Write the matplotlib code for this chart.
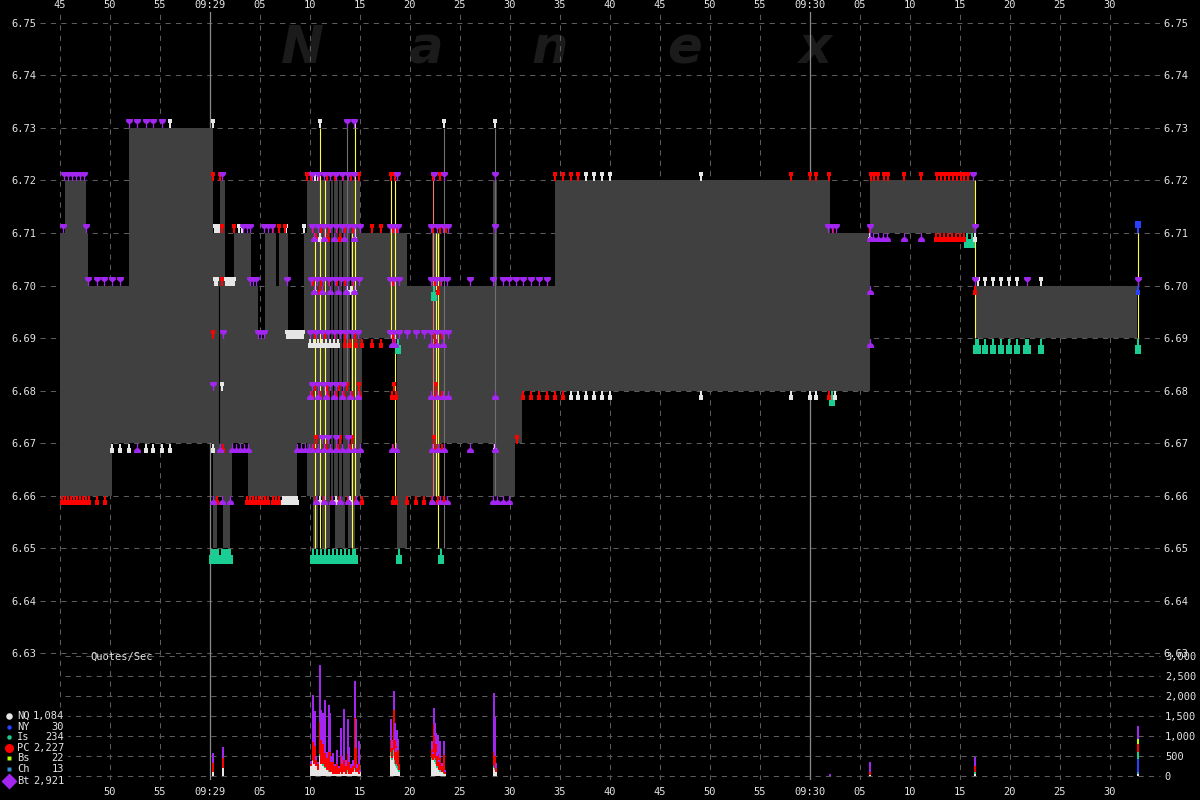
import numpy as np
import matplotlib
matplotlib.use("Agg")
import matplotlib.pyplot as plt
from matplotlib.path import Path
from matplotlib.transforms import offset_copy
from matplotlib.patches import Rectangle

plt.rcParams['font.family'] = ['DejaVu Sans Mono', 'DejaVu Sans']

# ---------------- data (time = seconds after 09:28:45) ----------------
X_TICK_SEC = list(range(0, 110, 5))
X_TICK_LABELS = ['45', '50', '55', '09:29', '05', '10', '15', '20', '25', '30', '35',
                 '40', '45', '50', '55', '09:30', '05', '10', '15', '20', '25', '30']
PRICE_TICKS = [6.63, 6.64, 6.65, 6.66, 6.67, 6.68, 6.69, 6.70, 6.71, 6.72, 6.73, 6.74, 6.75]
Q_TICKS = [0, 500, 1000, 1500, 2000, 2500, 3000]

# NBBO spread (step, post)
SEG_T = [0.0, 0.5, 2.6, 2.8, 5.2, 6.9, 15.3, 15.7, 16.0, 16.3, 16.5, 17.0, 17.2, 17.4,
         18.8, 19.1, 19.8, 20.5, 21.6, 21.9, 22.8, 23.7, 24.4, 24.7, 25.3, 25.8, 26.2,
         27.0, 27.5, 28.5, 28.8, 29.5, 30.0, 30.2, 33.7, 34.7, 37.2, 38.0, 43.3, 43.7,
         45.5, 46.2, 49.5, 77.0, 81.0, 91.5]
SEG_BID = [6.66, 6.66, 6.66, 6.66, 6.67, 6.67, 6.65, 6.66, 6.66, 6.65, 6.65, 6.66, 6.67, 6.67,
           6.66, 6.66, 6.66, 6.66, 6.66, 6.66, 6.66, 6.67, 6.67, 6.66, 6.65, 6.66, 6.65,
           6.66, 6.65, 6.66, 6.65, 6.66, 6.67, 6.69, 6.65, 6.66, 6.66, 6.67, 6.66, 6.66,
           6.67, 6.68, 6.68, 6.68, 6.71, 6.69]
SEG_ASK = [6.71, 6.72, 6.71, 6.70, 6.70, 6.73, 6.71, 6.71, 6.72, 6.72, 6.70, 6.70, 6.70, 6.71,
           6.71, 6.70, 6.69, 6.71, 6.70, 6.71, 6.69, 6.69, 6.71, 6.72, 6.72, 6.72, 6.72,
           6.72, 6.72, 6.72, 6.72, 6.72, 6.71, 6.71, 6.71, 6.70, 6.71, 6.70, 6.72, 6.70,
           6.70, 6.70, 6.72, 6.71, 6.72, 6.70]
SEG_END = 107.7

# quotes per exchange: (time, price)
BT_ASK = [(0.4, 6.72), (0.8, 6.72), (1.2, 6.72), (1.6, 6.72), (2.0, 6.72), (2.4, 6.72), (16.2, 6.72),
          (25.2, 6.72), (25.8, 6.72), (26.4, 6.72), (27.0, 6.72), (27.6, 6.72), (28.2, 6.72), (28.8, 6.72),
          (29.4, 6.72), (33.7, 6.72), (37.4, 6.72), (38.4, 6.72), (43.5, 6.72), (91.3, 6.72),
          (6.9, 6.73), (7.7, 6.73), (8.6, 6.73), (9.3, 6.73), (10.2, 6.73), (28.7, 6.73), (29.4, 6.73),
          (0.3, 6.71), (2.6, 6.71), (18.3, 6.71), (18.7, 6.71), (19.0, 6.71), (20.4, 6.71), (20.8, 6.71),
          (21.2, 6.71), (25.2, 6.71), (25.8, 6.71), (26.4, 6.71), (27.0, 6.71), (27.6, 6.71), (28.2, 6.71),
          (28.8, 6.71), (29.4, 6.71), (30.0, 6.71), (33.0, 6.71), (33.4, 6.71), (33.8, 6.71), (37.1, 6.71),
          (37.7, 6.71), (38.3, 6.71), (38.8, 6.71), (43.5, 6.71), (76.8, 6.71), (77.2, 6.71), (77.6, 6.71),
          (81.0, 6.71), (91.5, 6.71),
          (2.8, 6.70), (3.7, 6.70), (4.4, 6.70), (5.2, 6.70), (6.0, 6.70), (19.0, 6.70), (19.3, 6.70),
          (19.6, 6.70), (22.7, 6.70), (25.1, 6.70), (25.7, 6.70), (26.3, 6.70), (26.9, 6.70), (27.5, 6.70),
          (28.1, 6.70), (28.7, 6.70), (29.3, 6.70), (29.9, 6.70), (33.0, 6.70), (33.4, 6.70), (33.9, 6.70),
          (37.1, 6.70), (37.6, 6.70), (38.1, 6.70), (38.7, 6.70), (41.0, 6.70), (43.3, 6.70), (44.3, 6.70),
          (44.9, 6.70), (45.6, 6.70), (46.3, 6.70), (47.1, 6.70), (47.9, 6.70), (48.7, 6.70), (91.5, 6.70),
          (96.7, 6.70), (107.8, 6.70),
          (16.3, 6.69), (19.8, 6.69), (20.1, 6.69), (20.4, 6.69), (25.0, 6.69), (25.6, 6.69), (26.2, 6.69),
          (26.8, 6.69), (27.4, 6.69), (28.0, 6.69), (28.6, 6.69), (29.2, 6.69), (29.8, 6.69), (33.0, 6.69),
          (33.4, 6.69), (33.9, 6.69), (34.7, 6.69), (35.6, 6.69), (36.4, 6.69), (37.1, 6.69), (37.7, 6.69),
          (38.3, 6.69), (38.8, 6.69),
          (15.3, 6.68), (25.2, 6.68), (25.8, 6.68), (26.4, 6.68), (27.0, 6.68), (27.6, 6.68), (28.3, 6.68),
          (26.2, 6.67), (26.8, 6.67), (27.6, 6.67), (28.8, 6.67)]
BT_BID = [(7.7, 6.67), (16.0, 6.67), (17.2, 6.67), (17.6, 6.67), (18.0, 6.67), (18.4, 6.67), (18.8, 6.67),
          (23.7, 6.67), (24.1, 6.67), (24.5, 6.67), (24.9, 6.67), (25.2, 6.67), (25.8, 6.67), (26.4, 6.67),
          (27.0, 6.67), (27.6, 6.67), (28.2, 6.67), (28.8, 6.67), (29.4, 6.67), (30.0, 6.67), (33.2, 6.67),
          (33.6, 6.67), (37.2, 6.67), (37.8, 6.67), (38.4, 6.67), (41.0, 6.67), (43.5, 6.67),
          (15.3, 6.66), (16.2, 6.66), (17.0, 6.66), (25.6, 6.66), (26.4, 6.66), (27.2, 6.66), (28.0, 6.66),
          (28.8, 6.66), (29.6, 6.66), (37.2, 6.66), (38.0, 6.66), (38.7, 6.66), (43.3, 6.66), (43.7, 6.66),
          (44.3, 6.66), (44.9, 6.66),
          (33.2, 6.69), (33.5, 6.69), (37.1, 6.69), (37.7, 6.69), (38.3, 6.69), (81.0, 6.69),
          (25.0, 6.68), (25.8, 6.68), (26.6, 6.68), (27.4, 6.68), (28.2, 6.68), (29.0, 6.68), (29.8, 6.68),
          (37.1, 6.68), (37.7, 6.68), (38.3, 6.68), (38.8, 6.68), (43.5, 6.68),
          (25.4, 6.70), (26.2, 6.70), (27.0, 6.70), (27.8, 6.70), (28.6, 6.70), (29.4, 6.70), (81.0, 6.70),
          (25.4, 6.71), (26.4, 6.71), (27.4, 6.71), (28.4, 6.71), (29.4, 6.71), (81.0, 6.71), (81.3, 6.71),
          (81.8, 6.71), (82.3, 6.71), (82.7, 6.71), (84.4, 6.71), (86.1, 6.71)]
PC_ASK = [(15.3, 6.72), (16.0, 6.72), (24.7, 6.72), (25.1, 6.72), (25.9, 6.72), (26.7, 6.72), (27.5, 6.72),
          (28.3, 6.72), (29.1, 6.72), (29.9, 6.72), (33.1, 6.72), (33.5, 6.72), (37.3, 6.72), (38.0, 6.72),
          (49.5, 6.72), (50.3, 6.72), (51.1, 6.72), (51.8, 6.72), (73.1, 6.72), (75.0, 6.72), (75.6, 6.72),
          (76.9, 6.72), (81.1, 6.72), (81.4, 6.72), (81.8, 6.72), (82.4, 6.72), (82.8, 6.72), (84.4, 6.72),
          (86.1, 6.72), (87.7, 6.72), (88.1, 6.72), (88.5, 6.72), (88.9, 6.72), (89.3, 6.72), (89.7, 6.72),
          (90.1, 6.72), (90.4, 6.72), (90.8, 6.72),
          (16.2, 6.71), (17.4, 6.71), (21.3, 6.71), (21.9, 6.71), (22.5, 6.71), (25.3, 6.71), (26.1, 6.71),
          (26.9, 6.71), (27.7, 6.71), (28.5, 6.71), (29.3, 6.71), (31.2, 6.71), (32.1, 6.71), (33.3, 6.71),
          (33.7, 6.71), (37.3, 6.71), (38.0, 6.71), (38.6, 6.71), (77.3, 6.71), (81.0, 6.71),
          (16.2, 6.70), (25.3, 6.70), (26.1, 6.70), (26.9, 6.70), (27.7, 6.70), (28.5, 6.70), (29.3, 6.70),
          (33.3, 6.70), (37.5, 6.70), (38.1, 6.70),
          (15.3, 6.69), (25.5, 6.69), (26.5, 6.69), (27.5, 6.69), (28.5, 6.69), (29.5, 6.69), (33.3, 6.69),
          (37.4, 6.69), (38.2, 6.69),
          (25.5, 6.68), (26.7, 6.68), (27.9, 6.68), (28.7, 6.68), (29.9, 6.68), (33.4, 6.68), (37.6, 6.68),
          (25.6, 6.67), (26.8, 6.67), (28.0, 6.67), (29.2, 6.67), (37.4, 6.67), (45.7, 6.67)]
PC_BID = [(0.2, 6.66), (0.5, 6.66), (0.8, 6.66), (1.1, 6.66), (1.4, 6.66), (1.7, 6.66), (2.0, 6.66),
          (2.3, 6.66), (2.6, 6.66), (2.9, 6.66), (3.7, 6.66), (4.5, 6.66), (15.7, 6.66), (18.7, 6.66),
          (19.0, 6.66), (19.3, 6.66), (19.6, 6.66), (19.9, 6.66), (20.2, 6.66), (20.5, 6.66), (20.8, 6.66),
          (21.3, 6.66), (21.6, 6.66), (21.9, 6.66), (25.6, 6.66), (26.4, 6.66), (27.2, 6.66), (28.0, 6.66),
          (28.8, 6.66), (29.6, 6.66), (30.2, 6.66), (33.3, 6.66), (33.6, 6.66), (34.7, 6.66), (35.6, 6.66),
          (36.4, 6.66), (37.2, 6.66), (37.8, 6.66), (38.4, 6.66),
          (16.3, 6.67), (25.4, 6.67), (26.6, 6.67), (27.8, 6.67), (29.0, 6.67), (33.3, 6.67), (37.6, 6.67),
          (38.2, 6.67),
          (25.2, 6.68), (26.0, 6.68), (26.8, 6.68), (27.6, 6.68), (28.4, 6.68), (29.2, 6.68), (30.0, 6.68),
          (33.2, 6.68), (33.6, 6.68), (37.6, 6.68), (38.2, 6.68), (46.3, 6.68), (47.1, 6.68), (47.9, 6.68),
          (48.7, 6.68), (49.5, 6.68), (50.3, 6.68), (76.9, 6.68),
          (28.5, 6.69), (29.0, 6.69), (29.6, 6.69), (30.2, 6.69), (31.2, 6.69), (32.1, 6.69), (33.4, 6.69),
          (37.6, 6.69),
          (26.0, 6.70), (37.8, 6.70), (91.5, 6.70),
          (25.6, 6.71), (26.8, 6.71), (28.0, 6.71), (87.6, 6.71), (88.0, 6.71), (88.4, 6.71), (88.8, 6.71),
          (89.2, 6.71), (89.6, 6.71), (90.0, 6.71), (90.4, 6.71)]
NQ_ASK = [(11.0, 6.73), (15.3, 6.73), (26.0, 6.73), (29.5, 6.73), (38.4, 6.73), (43.5, 6.73),
          (25.2, 6.72), (25.5, 6.72), (25.8, 6.72), (52.6, 6.72), (53.4, 6.72), (54.2, 6.72), (55.0, 6.72),
          (64.1, 6.72),
          (15.5, 6.71), (15.7, 6.71), (15.9, 6.71), (17.9, 6.71), (18.2, 6.71), (22.6, 6.71), (24.4, 6.71),
          (15.5, 6.70), (15.7, 6.70), (16.6, 6.70), (16.8, 6.70), (17.0, 6.70), (17.2, 6.70), (17.4, 6.70),
          (91.8, 6.70), (92.5, 6.70), (93.3, 6.70), (94.1, 6.70), (94.9, 6.70), (95.7, 6.70), (98.1, 6.70),
          (22.7, 6.69), (22.9, 6.69), (23.1, 6.69), (23.3, 6.69), (23.5, 6.69), (23.7, 6.69), (23.9, 6.69),
          (24.1, 6.69), (24.3, 6.69), (16.2, 6.68)]
NQ_BID = [(5.2, 6.67), (6.0, 6.67), (6.9, 6.67), (8.6, 6.67), (9.3, 6.67), (10.2, 6.67), (11.0, 6.67),
          (15.3, 6.67), (43.5, 6.67),
          (22.3, 6.66), (22.5, 6.66), (22.7, 6.66), (22.9, 6.66), (23.1, 6.66), (23.3, 6.66), (23.5, 6.66),
          (23.7, 6.66), (25.6, 6.66), (26.0, 6.66), (27.2, 6.66), (27.6, 6.66), (29.0, 6.66),
          (25.5, 6.70), (26.0, 6.70), (28.7, 6.70), (29.1, 6.70), (29.5, 6.70),
          (25.0, 6.69), (25.4, 6.69), (25.8, 6.69), (26.2, 6.69), (26.6, 6.69), (27.0, 6.69), (27.4, 6.69),
          (27.8, 6.69),
          (51.1, 6.68), (51.8, 6.68), (52.6, 6.68), (53.4, 6.68), (54.2, 6.68), (55.0, 6.68), (64.1, 6.68),
          (73.1, 6.68), (75.0, 6.68), (75.6, 6.68), (77.5, 6.68),
          (25.5, 6.71), (26.0, 6.71), (29.5, 6.71), (81.0, 6.71), (91.5, 6.71)]
IS_BID = [(15.2, 6.65), (15.4, 6.65), (15.6, 6.65), (15.8, 6.65), (16.2, 6.65), (16.4, 6.65), (16.6, 6.65),
          (16.8, 6.65), (17.0, 6.65), (25.3, 6.65), (25.7, 6.65), (26.1, 6.65), (26.5, 6.65), (26.9, 6.65),
          (27.3, 6.65), (27.7, 6.65), (28.1, 6.65), (28.5, 6.65), (28.9, 6.65), (29.3, 6.65), (29.5, 6.65),
          (33.9, 6.65), (38.1, 6.65),
          (91.6, 6.69), (91.8, 6.69), (92.5, 6.69), (93.3, 6.69), (94.1, 6.69), (94.9, 6.69), (95.7, 6.69),
          (96.6, 6.69), (96.8, 6.69), (98.1, 6.69), (107.8, 6.69),
          (37.4, 6.70), (33.8, 6.69), (90.7, 6.71), (91.2, 6.71), (77.2, 6.68)]
NY_ASK = [(107.8, 6.71)]
NY_BID = [(107.8, 6.70)]

# vertical event lines: (time, low price, high price)
YELLOW_LINES = [(25.5, 6.65, 6.71), (26.0, 6.65, 6.73), (26.5, 6.65, 6.72), (29.2, 6.65, 6.71),
                (29.5, 6.66, 6.73), (33.1, 6.69, 6.72), (33.5, 6.66, 6.72), (37.6, 6.66, 6.71),
                (37.8, 6.65, 6.71), (91.5, 6.69, 6.72), (107.8, 6.69, 6.71)]
GRAY_LINES = [(28.7, 6.68, 6.73), (38.4, 6.65, 6.73), (43.5, 6.66, 6.73)]
SALMON_LINES = [(37.3, 6.66, 6.72)]
BLACK_LINES = [(27.0, 6.66, 6.72), (27.3, 6.66, 6.72), (27.8, 6.66, 6.72), (28.2, 6.66, 6.72),
               (29.0, 6.66, 6.71), (15.9, 6.67, 6.70)]

# quotes/sec histogram
HIST_T = [15.3, 16.3,
          25.1, 25.3, 25.4, 25.5, 25.6, 25.8, 26.0, 26.1, 26.3, 26.5, 26.7, 26.9, 27.0, 27.1, 27.3, 27.5,
          27.7, 27.9, 28.1, 28.2, 28.4, 28.6, 28.8, 28.9, 29.1, 29.3, 29.5, 29.6, 29.7, 29.9, 30.0,
          33.1, 33.2, 33.4, 33.5, 33.6, 33.7, 33.8, 33.9,
          37.2, 37.3, 37.4, 37.5, 37.6, 37.7, 37.8, 37.9, 38.0, 38.2, 38.4, 38.5,
          43.4, 43.5, 43.6, 77.0, 81.0, 91.5, 107.8]
HIST_NQ = [100, 208,
           250, 375, 300, 300, 250, 150, 500, 300, 250, 200, 150, 100, 100, 100, 50, 50, 50, 50, 100, 50,
           100, 50, 100, 50, 50, 100, 150, 100, 100, 50, 100,
           500, 400, 500, 300, 250, 200, 150, 100,
           400, 400, 400, 350, 300, 200, 200, 150, 100, 100, 50, 50,
           200, 150, 100, 0, 25, 50, 50]
HIST_IS = [0, 0,
           0, 25, 0, 50, 0, 0, 50, 0, 50, 25, 0, 50, 0, 0, 0, 0, 0, 0, 0, 0,
           0, 0, 50, 0, 0, 0, 50, 0, 0, 0, 0,
           100, 50, 150, 100, 50, 100, 100, 50,
           50, 0, 150, 100, 100, 50, 50, 0, 50, 0, 25, 0,
           50, 50, 0, 0, 0, 50, 167]
HIST_PC = [233, 250,
           50, 450, 100, 400, 150, 150, 800, 600, 500, 350, 300, 450, 500, 250, 300, 200, 250, 150, 400, 250,
           300, 200, 400, 300, 150, 150, 1250, 600, 100, 250, 0,
           300, 250, 1000, 500, 300, 450, 400, 150,
           200, 150, 750, 550, 400, 250, 300, 200, 300, 150, 450, 50,
           350, 300, 100, 0, 75, 150, 208]
HIST_BT = [234, 267,
           75, 1167, 0, 875, 100, 50, 1417, 750, 767, 1317, 150, 1167, 967, 150, 233, 50, 342, 50, 692, 200,
           1267, 150, 867, 383, 100, 150, 925, 717, 100, 575, 50,
           517, 200, 475, 417, 100, 400, 267, 0,
           225, 50, 392, 317, 267, 100, 467, 50, 425, 83, 350, 50,
           1467, 983, 117, 60, 250, 225, 308]
HIST_NY = [0] * 59 + [333]
HIST_BS = [0] * 59 + [125]
HIST_CH = [0] * 59 + [50]

LEGEND_NAMES = ['NQ', 'NY', 'Is', 'PC', 'Bs', 'Ch', 'Bt']
LEGEND_COUNTS = ['1,084', '30', '234', '2,227', '22', '13', '2,921']

# ---------------- styles ----------------
W, H = 1200, 800
BG = 'black'
TXT = '#e4e4e4'
GRID = '#5c5c5c'
FILL = '#404040'
C_NQ, C_NY, C_IS, C_PC, C_BS, C_CH, C_BT = ('#e6e6e6', '#2a40ff', '#1acd92', '#ff0000',
                                           '#b4ff00', '#3090d0', '#a226f0')
FS = 7.5


def fx(px):
    return px / W


def fy(py):
    return 1 - py / H


def make_path(verts):
    codes = [Path.MOVETO] + [Path.LINETO] * (len(verts) - 2) + [Path.CLOSEPOLY]
    return Path(verts, codes)


def flip(verts):
    return [(x, -y) for x, y in verts]


BT_SHAPE = [(-0.75, 1), (0.75, 1), (0.75, 0.4), (0.3, -0.05), (0.14, -0.05), (0.14, -1),
            (-0.14, -1), (-0.14, -0.05), (-0.3, -0.05), (-0.75, 0.4), (-0.75, 1)]
PIN_SHAPE = [(-0.42, 1), (0.42, 1), (0.42, -0.1), (0.13, -0.1), (0.13, -1), (-0.13, -1),
             (-0.13, -0.1), (-0.42, -0.1), (-0.42, 1)]
IS_SHAPE = [(-0.36, -1), (0.36, -1), (0.36, 0.1), (0.1, 0.1), (0.1, 1), (-0.1, 1),
            (-0.1, 0.1), (-0.36, 0.1), (-0.36, -1)]

fig = plt.figure(figsize=(12, 8), dpi=100, facecolor=BG)

ax = fig.add_axes([fx(40), fy(780), 1120 / W, 768 / H])
ax.set_facecolor(BG)
ax.set_xlim(-2, 110)
ax.set_ylim(6.605810, 6.752095)
for s in ax.spines.values():
    s.set_visible(False)
ax.set_xticks(X_TICK_SEC)
ax.set_xticklabels(X_TICK_LABELS)
ax.set_yticks(PRICE_TICKS)
ax.set_yticklabels([f'{p:.2f}' for p in PRICE_TICKS])
ax.tick_params(axis='both', length=0, colors=TXT, labelsize=FS)
ax.tick_params(axis='y', labelleft=True, labelright=True, pad=2.5)
ax.tick_params(axis='x', labelbottom=True, pad=5)
ax.set_axisbelow(True)
ax.grid(True, color=GRID, linestyle=(0, (5, 5)), linewidth=0.75)

sec = ax.secondary_xaxis('top')
sec.set_xticks(X_TICK_SEC)
sec.set_xticklabels(X_TICK_LABELS)
sec.tick_params(length=0, pad=1.5, colors=TXT, labelsize=FS)
for s in sec.spines.values():
    s.set_visible(False)

# watermark
for ch, px in zip('Nanex', [302, 425, 550, 685, 815]):
    ax.text(fx(px), fy(63), ch, transform=fig.transFigure, ha='center', va='baseline',
            fontsize=37, fontstyle='italic', fontweight='bold', family='DejaVu Sans',
            color='#1b1b1b', zorder=0.3)

# minute lines
for t in [15, 75]:
    ax.axvline(t, color='#8a8a8a', lw=0.9, zorder=0.6)

# spread area
xs = SEG_T + [SEG_END]
ax.fill_between(xs, SEG_BID + [SEG_BID[-1]], SEG_ASK + [SEG_ASK[-1]], step='post',
                color=FILL, lw=0, zorder=1)

# event lines
for lines, col in [(BLACK_LINES, 'black'), (GRAY_LINES, '#707070'),
                   (SALMON_LINES, '#e08070'), (YELLOW_LINES, '#ffff40')]:
    ax.vlines([l[0] for l in lines], [l[1] for l in lines], [l[2] for l in lines],
              colors=col, lw=0.8, zorder=2)


def draw_quotes(pts, color, verts, size_px, side):
    t = [q[0] for q in pts]
    p = [q[1] for q in pts]
    dy = size_px / 2 * 0.72 * (1 if side == 'ask' else -1)
    if side == 'bid' and verts is not IS_SHAPE:
        verts = flip(verts)
    tr = offset_copy(ax.transData, fig=fig, x=0, y=dy, units='points')
    ax.plot(t, p, ls='none', marker=make_path(verts), ms=size_px * 0.72, mfc=color,
            mec='none', mew=0, transform=tr, zorder=3, clip_on=False)


draw_quotes(IS_BID, C_IS, IS_SHAPE, 15, 'bid')
draw_quotes(NQ_ASK, C_NQ, PIN_SHAPE, 9, 'ask')
draw_quotes(NQ_BID, C_NQ, PIN_SHAPE, 9, 'bid')
draw_quotes(PC_ASK, C_PC, PIN_SHAPE, 9, 'ask')
draw_quotes(PC_BID, C_PC, PIN_SHAPE, 9, 'bid')
draw_quotes(BT_ASK, C_BT, BT_SHAPE, 9, 'ask')
draw_quotes(BT_BID, C_BT, BT_SHAPE, 9, 'bid')
draw_quotes(NY_ASK, C_NY, PIN_SHAPE, 12, 'ask')
draw_quotes(NY_BID, C_NY, PIN_SHAPE, 9, 'bid')

# ---------------- quotes/sec panel ----------------
ax2 = fig.add_axes([fx(40), fy(776), 1120 / W, 120 / H])
ax2.set_facecolor('none')
ax2.set_xlim(-2, 110)
ax2.set_ylim(0, 3000)
for s in ax2.spines.values():
    s.set_visible(False)
ax2.set_xticks([])
ax2.set_yticks(Q_TICKS)
ax2.set_yticklabels([f'{v:,}' for v in Q_TICKS])
ax2.tick_params(axis='y', length=0, labelleft=False, labelright=True, colors=TXT,
                labelsize=FS, pad=3.5)
ax2.hlines(Q_TICKS, 0.5, 110, colors=GRID, linestyles=(0, (5, 5)), lw=0.75, zorder=0.5,
           clip_on=False)

bottom = np.zeros(len(HIST_T))
for vals, col in [(HIST_NQ, C_NQ), (HIST_CH, C_CH), (HIST_NY, C_NY), (HIST_IS, C_IS),
                  (HIST_PC, C_PC), (HIST_BS, C_BS), (HIST_BT, C_BT)]:
    v = np.array(vals, dtype=float)
    ax2.bar(HIST_T, v, width=0.12, bottom=bottom, color=col, lw=0, zorder=2,
            antialiased=False)
    bottom += v

# ---------------- legend / labels ----------------
ov = fig.add_axes([0, 0, 1, 1], zorder=10)
ov.set_xlim(0, W)
ov.set_ylim(H, 0)
ov.axis('off')
ov.patch.set_alpha(0)
ov.text(90, 657, 'Quotes/Sec', color=TXT, fontsize=FS, ha='left', va='center')
ov.add_patch(Rectangle((0, 708), 67, 92, color=BG, zorder=1))
leg_y = [716, 727, 737, 748, 758, 769, 781]
leg_sym = [('o', 6.5, C_NQ), ('o', 4.5, C_NY), ('o', 4.5, C_IS), ('o', 9, C_PC),
           ('s', 5, C_BS), ('s', 5, C_CH), ('D', 11, C_BT)]
for y, name, cnt, (m, s, c) in zip(leg_y, LEGEND_NAMES, LEGEND_COUNTS, leg_sym):
    ov.plot([9], [y], marker=m, ms=s * 0.72, mfc=c, mec='none', ls='none', zorder=2)
    ov.text(17, y, name, color=TXT, fontsize=FS, ha='left', va='center', zorder=2)
    ov.text(64, y, cnt, color=TXT, fontsize=FS, ha='right', va='center', zorder=2)

fig.savefig('out.png', dpi=100, facecolor=BG)
